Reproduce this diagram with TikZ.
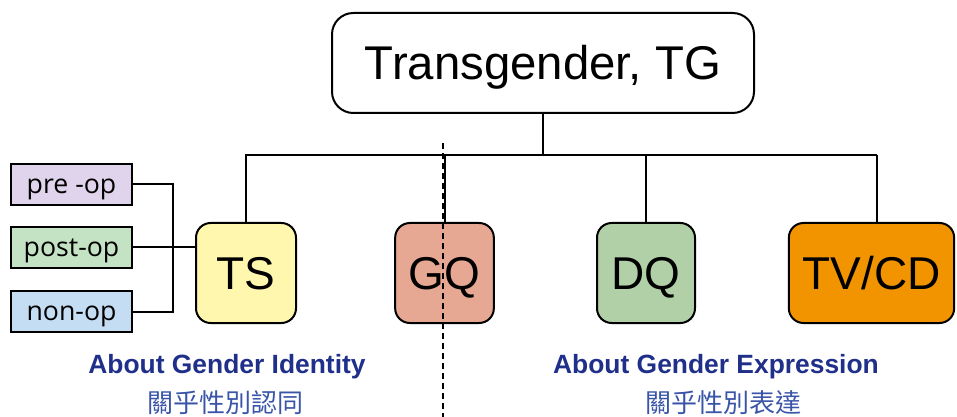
\documentclass[tikz,border=0pt]{standalone}
\usepackage{fontspec}
\setmainfont{Liberation Sans}
\newfontfamily\opfont{Open Sans}
\newfontfamily\cjk{Noto Sans CJK TC}
\definecolor{navy}{HTML}{1F2F8A}
\definecolor{cjkblue}{HTML}{3A55A8}
\definecolor{preC}{HTML}{E0D4EC}
\definecolor{postC}{HTML}{C4E2C4}
\definecolor{nonC}{HTML}{C4DDF2}
\definecolor{tsC}{HTML}{FFF7AE}
\definecolor{gqC}{HTML}{E6A892}
\definecolor{dqC}{HTML}{B1D0A8}
\definecolor{tvC}{HTML}{F29400}
\begin{document}
\begin{tikzpicture}[x=0.75pt,y=-0.75pt,
  line width=1.5pt,
  bigbox/.style={draw,rounded corners=11pt,minimum height=75pt,inner sep=0pt,text height=24.7pt,text depth=0pt,font=\fontsize{34.5}{40}\selectfont},
  opbox/.style={draw,minimum width=91pt,minimum height=31pt,inner sep=0pt,text height=12.8pt,text depth=0pt,font=\opfont\fontsize{20}{24}\selectfont},
  head/.style={anchor=base,inner sep=0pt,font=\bfseries\fontsize{19.8}{24}\selectfont,text=navy},
  zh/.style={font=\cjk\fontsize{19.5}{23}\selectfont,text=cjkblue}]
\useasboundingbox (0,0) rectangle (957,417);
\node[bigbox,rounded corners=16pt,minimum width=316.5pt,fill=white,text height=25.4pt,font=\fontsize{35.5}{42}\selectfont] (tg) at (543,63) {Transgender, TG};
\node[bigbox,minimum width=75pt,fill=tsC] (ts) at (246,273) {TS};
\node[bigbox,minimum width=74pt,fill=gqC] (gq) at (444.5,273) {GQ};
\node[bigbox,minimum width=73.5pt,fill=dqC] (dq) at (646,273) {DQ};
\node[bigbox,minimum width=124pt,fill=tvC] (tv) at (871.5,273) {TV/CD};
\node[opbox,fill=preC] (pre) at (71.5,184.5) {pre -op};
\node[opbox,fill=postC] (post) at (71.5,247.5) {post-op};
\node[opbox,fill=nonC] (non) at (71.5,311.5) {non-op};
\coordinate (busL) at (245,155);
\coordinate (busR) at (877,155);
\coordinate (brk) at (173,186);
\coordinate (dtop) at (443,143);
\coordinate (dbot) at (443,417);
% tree
\draw (tg.south) -- (tg.south |- busL);
\draw (busL) -- (busR);
\draw (ts.north) -- (ts.north |- busL);
\draw (gq.north) -- (gq.north |- busL);
\draw (dq.north) -- (dq.north |- busL);
\draw (busR) -- (busR |- tv.north);
% bracket
\draw (pre.east) -- (pre.east -| brk) -- (non.east -| brk) -- (non.east);
\draw (post.east) -- (post.east -| ts.west);
% dashed divider
\draw[line width=1.6pt,dash pattern=on 4.5pt off 3pt] (dtop) -- (dbot);
% labels
\node[head] (lid) at (227,373) {About Gender Identity};
\node[zh] (zid) at (225,403) {關乎性別認同};
\node[head] (lex) at (716,373) {About Gender Expression};
\node[zh] (zex) at (723,403) {關乎性別表達};
\end{tikzpicture}
\end{document}
